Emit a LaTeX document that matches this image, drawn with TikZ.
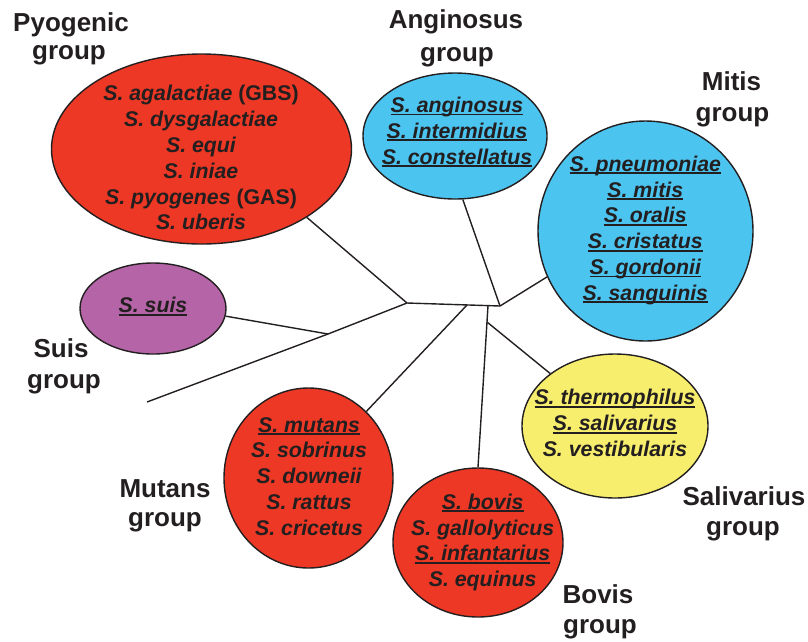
\documentclass[tikz,border=0pt]{standalone}
\usepackage{fontspec}
\setmainfont{Liberation Sans}
\usetikzlibrary{shapes.geometric}

\definecolor{ink}{HTML}{231F20}
\definecolor{grpred}{HTML}{EC3824}
\definecolor{grpblue}{HTML}{4CC4F0}
\definecolor{grppurple}{HTML}{B565A7}
\definecolor{grpyellow}{HTML}{F8EE6E}

% thick underline for species names
\newcommand\spul[1]{\setbox0=\hbox{#1}\rlap{\rule[-3pt]{\wd0}{1.8pt}}\box0}

\tikzset{
  grp/.style={ellipse, draw=ink, line width=1.4pt, inner sep=0pt},
  spp/.style={align=center, text=ink, inner sep=0pt,
    font=\fontsize{21.3}{25.8}\selectfont\bfseries\itshape},
  lab/.style={anchor=base, text=ink, inner sep=0pt,
    font=\fontsize{26}{31}\selectfont\bfseries},
  branch/.style={draw=ink, line width=1.4pt, line join=round}
}

\begin{document}
\begin{tikzpicture}[x=1pt, y=-1pt]
\useasboundingbox (0,0) rectangle (808,641);

% group ellipses
\node[grp, fill=grpred,    minimum width=300pt, minimum height=190pt] (pyo)  at (201.5,149) {};
\node[grp, fill=grpblue,   minimum width=184pt, minimum height=126pt] (ang)  at (455,136) {};
\node[grp, fill=grpblue,   minimum width=215pt, minimum height=220pt] (mit)  at (645.5,231) {};
\node[grp, fill=grppurple, minimum width=146pt, minimum height=91pt]  (suis) at (153,308.5) {};
\node[grp, fill=grpred,    minimum width=169pt, minimum height=180pt] (mut)  at (308.5,478) {};
\node[grp, fill=grpred,    minimum width=170pt, minimum height=149pt] (bov)  at (478,542.5) {};
\node[grp, fill=grpyellow, minimum width=186pt, minimum height=144pt] (sal)  at (615,426) {};

% species lists
\node[spp] (pyotxt) at (201,160.2) {\strut S. agalactiae {\upshape(GBS)}\\ S. dysgalactiae\\ S. equi\\ S. iniae\\ S. pyogenes {\upshape(GAS)}\\ S. uberis\strut};
\node[spp] (angtxt) at (457,133.1) {\strut\spul{S. anginosus}\\ \spul{S. intermidius}\\ \spul{S. constellatus}\strut};
\node[spp] (mittxt) at (645.3,230.6) {\strut\spul{S. pneumoniae}\\ \spul{S. mitis}\\ \spul{S. oralis}\\ \spul{S. cristatus}\\ \spul{S. gordonii}\\ \spul{S. sanguinis}\strut};
\node[spp] (suistxt) at (153,307.8) {\strut\spul{S. suis}};
\node[spp] (muttxt) at (309,478.5) {\strut\spul{S. mutans}\\ S. sobrinus\\ S. downeii\\ S. rattus\\ S. cricetus\strut};
\node[spp] (bovtxt) at (482.7,542.8) {\strut\spul{S. bovis}\\ S. gallolyticus\\ \spul{S. infantarius}\\ S. equinus\strut};
\node[spp] (saltxt) at (615,425.6) {\strut\spul{S. thermophilus}\\ \spul{S. salivarius}\\ S. vestibularis\strut};

% group names
\node[lab] (lpyoa) at (71,31)   {Pyogenic};
\node[lab] (lpyob) at (69,59)   {group};
\node[lab] (langa) at (456,28)  {Anginosus};
\node[lab] (langb) at (457,61)  {group};
\node[lab] (lmita) at (731.5,90)  {Mitis};
\node[lab] (lmitb) at (732.5,121) {group};
\node[lab] (lsuia) at (61,357)  {Suis};
\node[lab] (lsuib) at (64,388)  {group};
\node[lab] (lmuta) at (165,497) {Mutans};
\node[lab] (lmutb) at (165,526) {group};
\node[lab] (lsala) at (744,505) {Salivarius};
\node[lab] (lsalb) at (743,535) {group};
\node[lab] (lbova) at (598,603) {Bovis};
\node[lab] (lbovb) at (600,633) {group};

% internal points of the tree
\coordinate (A) at (407,303);
\coordinate (B) at (500,306);
\coordinate (C) at (328,334);
\coordinate (E) at (147,402);
\coordinate (M) at (467,305);
\coordinate (V) at (488,305.6);
\coordinate (S) at (487,322);

% branches
\draw[branch] (pyo.-33.2) -- (A) -- (B) -- (mit.-155);
\draw[branch] (ang.-83.7) -- (B);
\draw[branch] (A) -- (C) -- (E);
\draw[branch] (suis.-6.6) -- (C);
\draw[branch] (M) -- (mut.49.8);
\draw[branch] (V) -- (bov.90);
\draw[branch] (S) -- (sal.141.8);
\end{tikzpicture}
\end{document}
